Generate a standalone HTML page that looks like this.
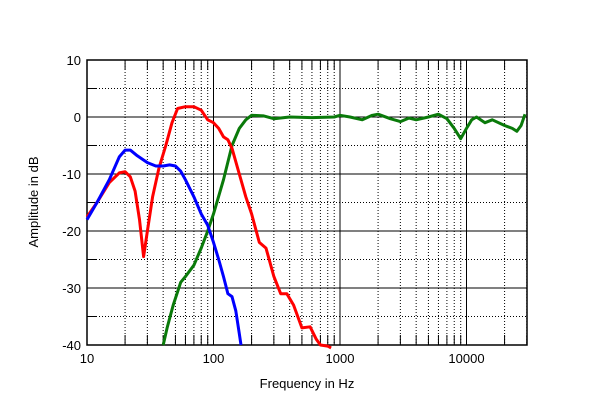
<!DOCTYPE html>
<html><head><meta charset="utf-8"><style>
body{margin:0;background:#fff;width:600px;height:405px;overflow:hidden}
svg{display:block}
text{font-family:"Liberation Sans",sans-serif;font-size:13px;fill:#000}
</style></head><body>
<svg id="c" width="600" height="405"></svg>
<script>
const yTicks=[10,0,-10,-20,-30,-40];
const xTickLabels=[10,100,1000,10000];
const blueF=[10,12,15,18,20,22,25,30,35,40,45,50,55,60,70,80,90,100,110,120,130,140,150,160,165];
const blueDb=[-18,-15,-11,-7,-5.8,-5.8,-6.8,-8,-8.6,-8.6,-8.4,-8.6,-9.5,-11,-14,-17,-19,-22,-25,-28,-31,-31.5,-34,-38,-40];
const redF=[10,12,15,18,20,22,24,26,28,30,33,37,42,47,52,60,70,80,90,100,110,120,130,140,160,180,200,230,260,300,340,380,430,500,580,650,700,800,850];
const redDb=[-17.5,-15,-11.5,-9.8,-9.6,-10.5,-13,-18,-24.5,-20,-14,-9,-5,-1,1.5,1.8,1.8,1.2,-0.5,-1,-2,-3.5,-4,-5.5,-10,-14,-17,-22,-23,-28,-31,-31,-33,-37,-36.8,-39,-40,-40.2,-40.5];
const greenF=[40,43,48,55,60,70,80,90,100,120,140,160,180,200,250,300,400,600,900,1000,1200,1500,1800,2000,2500,3000,3500,4000,5000,6000,7000,8000,9000,10000,11000,12000,14000,16000,20000,23000,25000,27000,29000];
const greenDb=[-40,-37,-33,-29,-28,-26,-23,-20,-17,-11,-5,-2,-0.5,0.3,0.2,-0.3,0,-0.1,0,0.3,0,-0.5,0.3,0.5,-0.3,-0.8,-0.2,-0.5,0,0.5,-0.3,-2,-3.8,-2,-0.5,0,-1,-0.5,-1.5,-2,-2.5,-1.5,0.5];
const L=87,R=527,T=60,B=345;
const xs=f=>L+126.5*Math.log10(f/10);
const ys=d=>T+(10-d)*(B-T)/50;
const svg=document.getElementById('c');const NS='http://www.w3.org/2000/svg';
function mk(t,a,p){const e=document.createElementNS(NS,t);for(const k in a)e.setAttribute(k,a[k]);(p||svg).appendChild(e);return e;}
const g=mk('g',{});


for(let d=10;d>=-40;d-=5){const y=ys(d);
 if(d%10===0)mk('line',{x1:L,x2:R,y1:y,y2:y,stroke:'#000','stroke-width':1},g);
 else{mk('line',{x1:L,x2:R,y1:y,y2:y,stroke:'#000','stroke-width':1,'stroke-dasharray':'1,2'},g);
 mk('line',{x1:L,x2:L+10,y1:y,y2:y,stroke:'#000','stroke-width':1},g);}}
for(let dec=10;dec<=10000;dec*=10)for(let m=1;m<=9;m++){const f=dec*m;if(f>30000)break;const x=xs(f);
 if(m===1)mk('line',{x1:x,x2:x,y1:T,y2:B,stroke:'#000','stroke-width':1},g);
 else{mk('line',{x1:x,x2:x,y1:T,y2:B,stroke:'#000','stroke-width':1,'stroke-dasharray':'1,2'},g);
 mk('line',{x1:x,x2:x,y1:T,y2:T+10,stroke:'#000','stroke-width':1},g);
 mk('line',{x1:x,x2:x,y1:B-10,y2:B,stroke:'#000','stroke-width':1},g);}}
const fr=mk('rect',{x:L,y:T,width:R-L,height:B-T,fill:'none',stroke:'#000','stroke-width':1.5});


yTicks.forEach(d=>{const t=mk('text',{x:L-6,y:ys(d)+5,'text-anchor':'end'});t.textContent=d;

});
xTickLabels.forEach(f=>{const t=mk('text',{x:xs(f),y:B+18,'text-anchor':'middle'});t.textContent=f;

});
function series(F,D,col,name){const p=F.map((f,i)=>(i?'L':'M')+xs(f).toFixed(1)+','+ys(D[i]).toFixed(1)).join('');
 const e=mk('path',{d:p,fill:'none',stroke:col,'stroke-width':3,'stroke-linejoin':'round'});
 
 }
const cp=mk('clipPath',{id:'cl'});mk('rect',{x:L,y:T,width:R-L,height:B-T},cp);
series(greenF,greenDb,'#0a7a0a','green-series');
series(redF,redDb,'#ff0000','red-series');
series(blueF,blueDb,'#0000ff','blue-series');
const xt=mk('text',{x:307,y:388,'text-anchor':'middle'});xt.textContent='Frequency in Hz';


const yt=mk('text',{x:0,y:0,'text-anchor':'middle',transform:'translate(38,202) rotate(-90)'});yt.textContent='Amplitude in dB';


</script>
</body></html>
